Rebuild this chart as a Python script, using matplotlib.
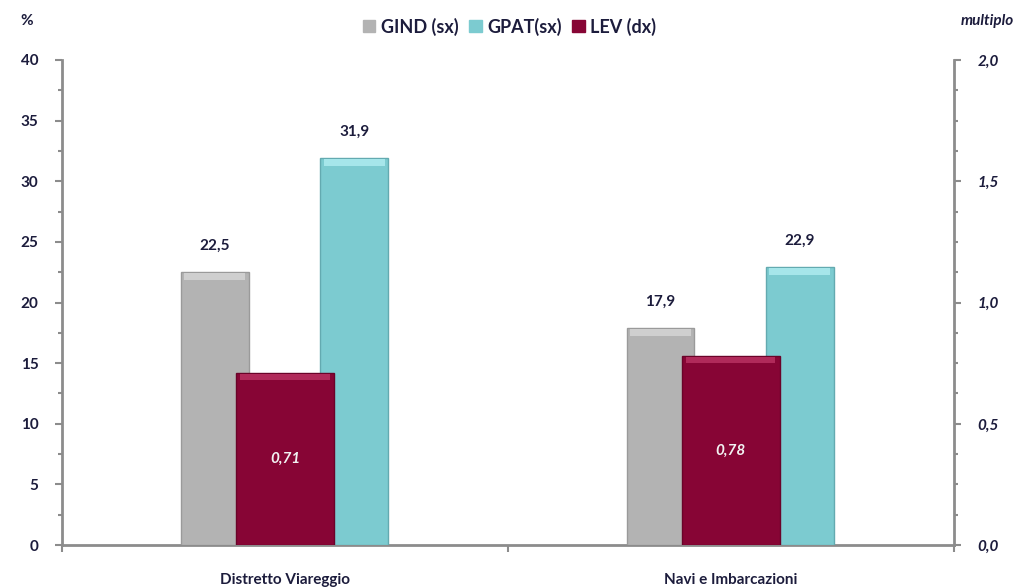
import matplotlib.pyplot as plt
import numpy as np
from matplotlib.ticker import FixedLocator, MultipleLocator

plt.rcParams['font.family'] = ['Lato', 'DejaVu Sans']

categories = ['Distretto Viareggio', 'Navi e Imbarcazioni']
gind = [22.5, 17.9]
gpat = [31.9, 22.9]
lev = [0.71, 0.78]

c_gind = '#b3b3b3'
c_gpat = '#7ccbd0'
c_lev = '#870535'
txt = '#1c1c3c'
axc = '#8c8c8c'


def fmt(v, nd=1):
    return f'{v:.{nd}f}'.replace('.', ',')


def bevel_bar(ax, x, h, w, color, edge, hi, top):
    ax.bar(x, h, w, color=color, edgecolor=edge, linewidth=1.0, zorder=3)
    # lighter band across the top of the bar
    ax.bar(x, top, w * 0.9, bottom=h - top - top * 0.15, color=hi, linewidth=0, zorder=3.5)


fig = plt.figure(figsize=(10.19, 5.88), dpi=100)
ax = fig.add_axes([0.061, 0.073, 0.875, 0.825])
ax2 = ax.twinx()

x = np.arange(len(categories))
for i in x:
    bevel_bar(ax, i - 0.158, gind[i], 0.152, c_gind, '#9a9a9a', '#cfcfcf', 0.55)
    bevel_bar(ax, i + 0.155, gpat[i], 0.152, c_gpat, '#63aab0', '#a6e6ea', 0.55)
    ax.text(i - 0.158, gind[i] + 1.6, fmt(gind[i]), ha='center', va='bottom',
            fontsize=11, fontweight='bold', color=txt)
    ax.text(i + 0.155, gpat[i] + 1.6, fmt(gpat[i]), ha='center', va='bottom',
            fontsize=11, fontweight='bold', color=txt)

ax2.bar(x, lev, 0.22, color=c_lev, edgecolor='#6a0329', linewidth=1.0, zorder=3)
ax2.bar(x, [0.027] * len(x), 0.2, bottom=np.array(lev) - 0.031, color='#b02a5a',
        linewidth=0, zorder=3.5)
for i in x:
    ax2.text(i, lev[i] / 2, fmt(lev[i], 2), ha='center', va='center', fontsize=11,
             fontweight='bold', fontstyle='italic', color='#f2f2f2', zorder=5)

ax.set_xlim(-0.5, 1.5)
ax.set_ylim(0, 40)
ax2.set_ylim(0, 2.0)

ax.yaxis.set_minor_locator(MultipleLocator(2.5))
ax2.yaxis.set_minor_locator(MultipleLocator(0.125))
ax.set_yticks(np.arange(0, 41, 5))
ax.set_yticklabels([str(v) for v in range(0, 41, 5)], fontweight='bold', fontsize=11, color=txt)
ax2.set_yticks(np.arange(0, 2.01, 0.5))
ax2.set_yticklabels([fmt(v) for v in np.arange(0, 2.01, 0.5)], fontweight='bold',
                    fontstyle='italic', fontsize=11, color=txt)

ax.set_xticks(x)
ax.set_xticklabels(categories, fontweight='bold', fontsize=11, color=txt)
ax.xaxis.set_minor_locator(FixedLocator([-0.5, 0.5, 1.5]))
ax.tick_params(axis='x', which='major', length=0, pad=20)
ax.tick_params(axis='x', which='minor', length=5, width=1.5, color=axc)
ax2.tick_params(axis='x', which='both', length=0)
for a in (ax, ax2):
    a.tick_params(axis='y', which='major', length=5, width=1.5, color=axc, pad=12)
    a.tick_params(axis='y', which='minor', length=3, width=1.5, color=axc)
    for s in a.spines.values():
        s.set_visible(False)
ax.spines['left'].set_visible(True)
ax.spines['bottom'].set_visible(True)
ax2.spines['right'].set_visible(True)
for s in (ax.spines['left'], ax.spines['bottom'], ax2.spines['right']):
    s.set_color(axc)
    s.set_linewidth(2)

fig.text(0.02, 0.965, '%', fontsize=11, fontweight='bold', color=txt, ha='left', va='center')
fig.text(0.995, 0.965, 'multiplo', fontsize=11, fontweight='bold', fontstyle='italic',
         color=txt, ha='right', va='center')

handles = [plt.Rectangle((0, 0), 1, 1, color=c) for c in (c_gind, c_gpat, c_lev)]
fig.legend(handles, ['GIND (sx)', 'GPAT(sx)', 'LEV (dx)'], loc='center',
           bbox_to_anchor=(0.5, 0.955), ncol=3, frameon=False, handlelength=0.7,
           handleheight=0.7, handletextpad=0.3, columnspacing=0.6,
           prop={'weight': 'bold', 'size': 13})
for t in fig.legends[0].get_texts():
    t.set_color(txt)

fig.savefig('out.png', dpi=100)
